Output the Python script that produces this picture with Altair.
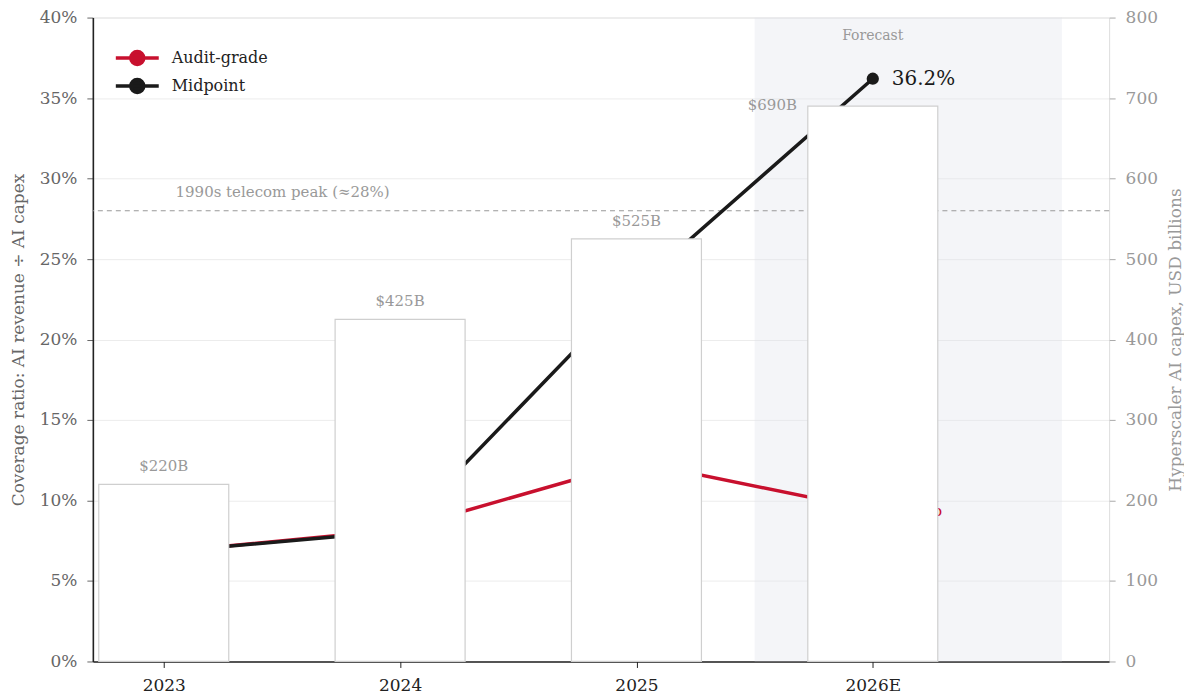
import json
import altair as alt
import pandas as pd

# ---- data ----
years = ["2023", "2024", "2025", "2026E"]
midpoint = [0.068, 0.081, 0.233, 0.362]
audit_grade = [0.068, 0.082, 0.124, 0.094]
capex = [220, 425, 525, 690]
capex_labels = ["$220B", "$425B", "$525B", "$690B"]
series_names = ["Audit-grade", "Midpoint"]
series_colors = ["#c8102e", "#1a1a1a"]
telecom_peak = [0.28]
telecom_label = ["1990s telecom peak (\u224828%)"]
forecast_label = ["Forecast"]
left_ticks = [0, 0.05, 0.10, 0.15, 0.20, 0.25, 0.30, 0.35, 0.40]
right_ticks = [0, 100, 200, 300, 400, 500, 600, 700, 800]

FONT = "DejaVu Serif"
idx = list(range(len(years)))
n = len(years)

lines_df = pd.DataFrame({
    "idx": idx * 2,
    "year": years * 2,
    "series": [series_names[0]] * n + [series_names[1]] * n,
    "ratio": audit_grade + midpoint,
})
bars_df = pd.DataFrame({"idx": idx, "year": years, "capex": capex, "label": capex_labels})
shade_df = pd.DataFrame({"start": [idx[-1] - 0.5], "end": [idx[-1] + 0.8], "lo": [0.0], "hi": [0.40],
                         "mid": [idx[-1]], "label": forecast_label})
peak_df = pd.DataFrame({"peak": telecom_peak, "label": telecom_label, "pos": [0.05]})

year_arr = json.dumps(years)
xscale = alt.Scale(domain=[-0.3, 4.0], nice=False, zero=False)
xaxis = alt.Axis(values=idx, labelExpr=f"{year_arr}[datum.value]", title=None, grid=False,
                 domainColor="#222", domainWidth=1.6, tickColor="#222", tickSize=6,
                 labelPadding=10, labelFontSize=17, labelColor="#222", labelFont=FONT)

yscale = alt.Scale(domain=[0, 0.40], nice=False, zero=True)
yaxis = alt.Axis(values=left_ticks, format=".0%", title="Coverage ratio: AI revenue \u00f7 AI capex",
                 grid=True, gridColor="#ececec", gridWidth=1,
                 domainColor="#222", domainWidth=1.6, tickColor="#666", tickSize=6,
                 labelPadding=10, labelFontSize=17, labelColor="#666", labelFont=FONT,
                 titleFont=FONT, titleFontSize=17, titleColor="#666", titleFontWeight="normal",
                 titlePadding=12)
yraxis = alt.Axis(values=right_ticks, orient="right", title="Hyperscaler AI capex, USD billions",
                  grid=False, domain=False, tickColor="#aaa", tickSize=6,
                  labelPadding=10, labelFontSize=17, labelColor="#999", labelFont=FONT,
                  titleFont=FONT, titleFontSize=17, titleColor="#999", titleFontWeight="normal",
                  titleAngle=270, titleBaseline="bottom", titlePadding=27)

def X(field):
    return alt.X(field, scale=xscale, axis=xaxis)

def YL(field):
    return alt.Y(field, scale=yscale, axis=yaxis)

series_scale = alt.Scale(domain=series_names, range=series_colors)
PATH = "M-1.72,0L1.72,0M-0.52,0A0.52,0.52,0,1,0,0.52,0A0.52,0.52,0,1,0,-0.52,0Z"
legend = alt.Legend(title=None, orient="none", legendX=30, legendY=26,
                    symbolType=PATH, symbolSize=625, symbolStrokeWidth=3.5,
                    labelFont=FONT, labelFontSize=16, labelColor="#222",
                    labelOffset=20, rowPadding=-2, padding=0)

shade = alt.Chart(shade_df).mark_rect(fill="#dfe3ea", opacity=0.35).encode(
    x=X("start:Q"), x2="end:Q", y=YL("lo:Q"), y2="hi:Q")

forecast_text = alt.Chart(shade_df).mark_text(
    font=FONT, fontSize=14, color="#999", baseline="middle", dy=18).encode(
    x=X("mid:Q"), y=YL("hi:Q"), text="label:N")

peak_rule = alt.Chart(peak_df).mark_rule(color="#999", strokeDash=[5, 4], strokeWidth=1.2).encode(
    y=YL("peak:Q"))

peak_text = alt.Chart(peak_df).mark_text(
    font=FONT, fontSize=15, color="#999", align="left", baseline="middle", dy=-19).encode(
    x=X("pos:Q"), y=YL("peak:Q"), text="label:N")

lines = alt.Chart(lines_df).mark_line(strokeWidth=3.5).encode(
    x=X("idx:Q"), y=YL("ratio:Q"),
    stroke=alt.Stroke("series:N", scale=series_scale, legend=legend))

points = alt.Chart(lines_df).mark_point(filled=True, size=150, opacity=1).encode(
    x=X("idx:Q"), y=YL("ratio:Q"),
    fill=alt.Fill("series:N", scale=series_scale, legend=legend))

end_labels = alt.Chart(lines_df).transform_filter(
    alt.datum.idx == idx[-1]).mark_text(
    font=FONT, fontSize=20, align="left", baseline="middle", dx=19).encode(
    x=X("idx:Q"), y=YL("ratio:Q"), text=alt.Text("ratio:Q", format=".1%"),
    fill=alt.Fill("series:N", scale=series_scale, legend=legend))

left = alt.layer(shade, peak_rule, peak_text, forecast_text, lines, points, end_labels)

yscale_r = alt.Scale(domain=[0, 800], nice=False, zero=True)
yr = alt.Y("capex:Q", scale=yscale_r, axis=yraxis)

bars = alt.Chart(bars_df).transform_calculate(
    x0="datum.idx - 0.275", x1="datum.idx + 0.275", base="0").mark_rect(
    fill="white", stroke="#cfcfcf", strokeWidth=1.2).encode(
    x=X("x0:Q"), x2="x1:Q", y=yr, y2="base:Q")

bar_labels = alt.Chart(bars_df).transform_filter(alt.datum.idx < idx[-1]).mark_text(
    font=FONT, fontSize=15, color="#999", baseline="middle", dy=-18).encode(
    x=X("idx:Q"), y=yr, text="label:N")

bar_label_last = alt.Chart(bars_df).transform_filter(alt.datum.idx == idx[-1]).mark_text(
    font=FONT, fontSize=15, color="#999", align="right", baseline="middle", dx=-76, dy=-1).encode(
    x=X("idx:Q"), y=yr, text="label:N")

right = alt.layer(bars, bar_labels, bar_label_last)

chart = alt.layer(left, right).resolve_scale(y="independent").properties(
    width=1018, height=645,
    padding={"left": 1, "top": 0, "right": 0, "bottom": 0},
).configure_view(stroke=None).configure(font=FONT)

chart.save("out.html", embed_options={"renderer": "svg", "actions": False})
